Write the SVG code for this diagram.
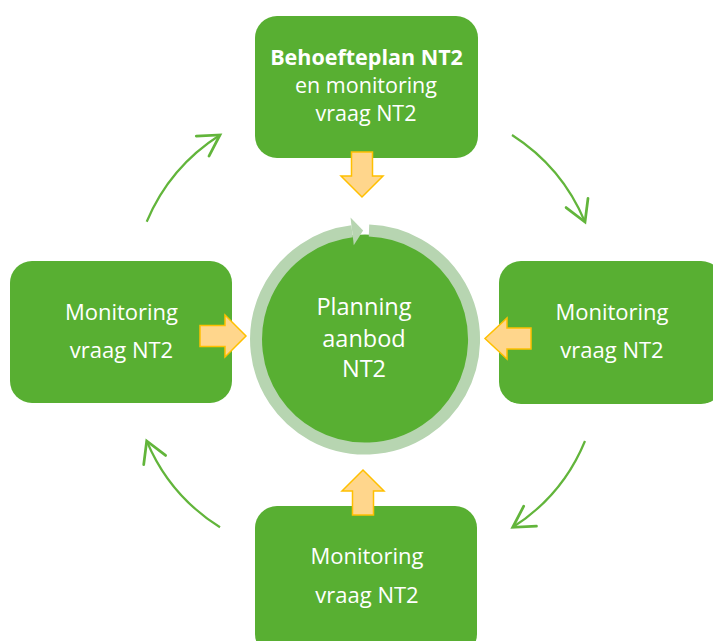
<svg xmlns="http://www.w3.org/2000/svg" width="713" height="641" viewBox="0 0 713 641">
<defs>
<style>
.box{fill:#58AF32}
.t{font-family:"Open Sans","Liberation Sans",sans-serif;fill:#FFFFFF;text-anchor:middle}
.side{font-size:22px}
.top{font-size:21.5px}
.ctr{font-size:23.5px}
.blk{fill:#FFD68C;stroke:#FFC000;stroke-width:1.5;stroke-linejoin:miter}
.cyc{fill:none;stroke:#62B53B;stroke-width:2.2}
</style>
<marker id="ah" markerUnits="userSpaceOnUse" markerWidth="30" markerHeight="30" viewBox="-20 -12 24 24" refX="0" refY="0" orient="auto">
<path d="M-16.5,-9.5 L0,0 L-16.5,9.5" fill="none" stroke="#62B53B" stroke-width="2.2" stroke-linecap="round" stroke-linejoin="miter"/>
</marker>
</defs>
<rect width="713" height="641" fill="#FFFFFF"/>

<g id="connectors">
<path class="cyc" d="M512,135 Q562,167 585,222" marker-end="url(#ah)"/>
<path class="cyc" d="M585,441 Q562.6,495.5 512.7,527.3" marker-end="url(#ah)"/>
<path class="cyc" d="M220,527.3 Q169.5,495.5 146.7,441" marker-end="url(#ah)"/>
<path class="cyc" d="M146.7,221.7 Q169.7,167 220,135" marker-end="url(#ah)"/>
</g>

<g id="node-center">
<circle cx="365" cy="339.5" r="105" fill="#58AF32"/>
<path d="M369,230.6 A109,109 0 1 1 352.1,231.3" fill="none" stroke="#B7D5B1" stroke-width="12"/>
<polygon points="350.5,217.4 363.1,230.5 353.8,245.2" fill="#B7D5B1"/>
<text class="t ctr" x="364" y="315">Planning</text>
<text class="t ctr" x="364" y="346.5">aanbod</text>
<text class="t ctr" x="364" y="377">NT2</text>
</g>

<g id="node-top">
<rect class="box" x="255" y="16" width="223" height="142" rx="22"/>
<text class="t top" x="366.5" y="65" font-weight="bold">Behoefteplan NT2</text>
<text class="t top" x="366" y="93">en monitoring</text>
<text class="t top" x="366" y="121">vraag NT2</text>
</g>

<g id="node-left">
<rect class="box" x="10" y="261" width="222" height="142" rx="22"/>
<text class="t side" x="121.5" y="320">Monitoring</text>
<text class="t side" x="121.5" y="358">vraag NT2</text>
</g>

<g id="node-right">
<rect class="box" x="499" y="261" width="224" height="143" rx="22"/>
<text class="t side" x="612" y="320">Monitoring</text>
<text class="t side" x="612" y="358">vraag NT2</text>
</g>

<g id="node-bottom">
<rect class="box" x="255" y="506" width="222" height="150" rx="22"/>
<text class="t side" x="367" y="564">Monitoring</text>
<text class="t side" x="367" y="603">vraag NT2</text>
</g>

<g id="block-arrows">
<polygon class="blk" points="351.5,152 372.5,152 372.5,176 383,176 362,197 341,176 351.5,176"/>
<polygon class="blk" points="200,325.5 225,325.5 225,315 246,336 225,357 225,346.5 200,346.5"/>
<polygon class="blk" points="531,328 507,328 507,318 485,338.5 507,359 507,349 531,349"/>
<polygon class="blk" points="352.5,515 373.5,515 373.5,491 384,491 363,470 342,491 352.5,491"/>
</g>
</svg>
